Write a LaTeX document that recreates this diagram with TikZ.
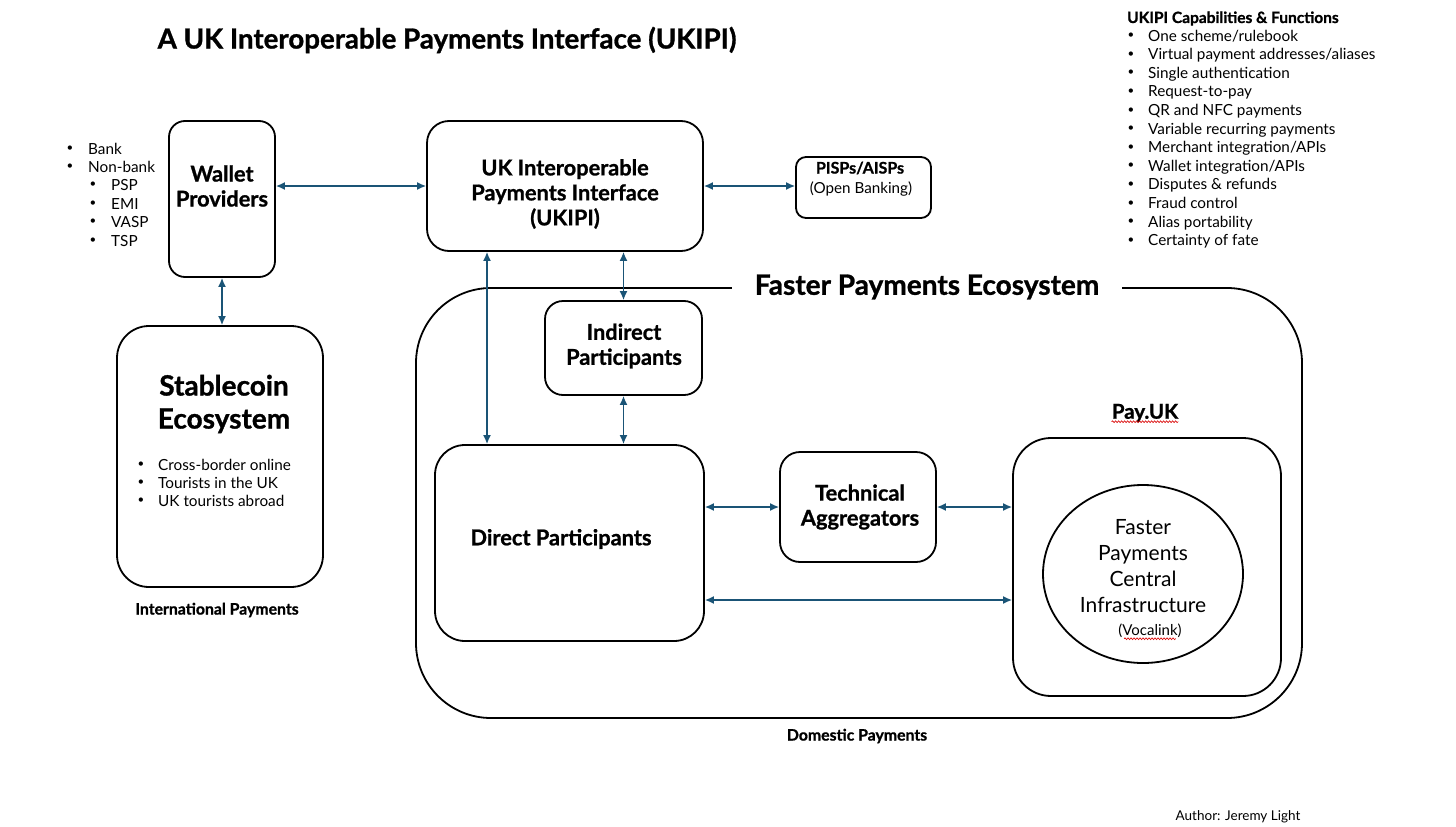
\documentclass[tikz,border=0pt]{standalone}
\usepackage{fontspec}
\setmainfont{Lato}[BoldFeatures={FakeBold=1}]
\usetikzlibrary{arrows.meta,calc,shapes.geometric,decorations.pathmorphing}
\definecolor{arrc}{RGB}{26,84,118}
\begin{document}
\begin{tikzpicture}[x=1pt,y=-1pt,
  box/.style={draw=black, line width=1.8pt, inner sep=0pt},
  arr/.style={draw=arrc, line width=1.5pt, {Latex[length=9pt,width=8pt]}-{Latex[length=9pt,width=8pt]}},
  lbl/.style={font=\fontsize{21.8}{25}\selectfont\bfseries, align=center, inner sep=0pt},
  body/.style={font=\fontsize{15.3}{18}\selectfont, inner sep=0pt},
  bul/.style={font=\fontsize{11.5}{12}\selectfont, inner sep=0pt},
  bodyb/.style={font=\fontsize{15.5}{18}\selectfont\bfseries, inner sep=0pt},
  squig/.style={draw=red!85!black, line width=0.6pt, decorate, decoration={snake, amplitude=0.9pt, segment length=3pt}}
]
\useasboundingbox (0,0) rectangle (1456,827);

% title
\node[font=\fontsize{27.7}{32}\selectfont\bfseries, inner sep=0pt] (title) at (447,40) {A UK Interoperable Payments Interface (UKIPI)};

% boxes
\node[box, rounded corners=16pt, minimum width=106pt, minimum height=156pt] (wallet) at (222,199) {};
\node[box, rounded corners=22pt, minimum width=276pt, minimum height=130pt] (ukipi) at (565,186) {};
\node[box, rounded corners=10pt, minimum width=135pt, minimum height=61pt] (pisps) at (863.5,187.5) {};
\node[box, rounded corners=32pt, minimum width=206pt, minimum height=261pt] (stable) at (220,456.5) {};
\node[box, rounded corners=75pt, minimum width=886pt, minimum height=430pt] (fpe) at (859,503) {};
\node[box, rounded corners=18pt, minimum width=157pt, minimum height=94pt] (indirect) at (623.5,348) {};
\node[box, rounded corners=30pt, minimum width=269pt, minimum height=196pt] (direct) at (569.5,543) {};
\node[box, rounded corners=20pt, minimum width=156pt, minimum height=110pt] (tech) at (858,507) {};
\node[box, rounded corners=38pt, minimum width=268pt, minimum height=258pt] (payuk) at (1147,567) {};
\node[draw=black, line width=1.8pt, ellipse, minimum width=200pt, minimum height=178pt, inner sep=0pt] (fpci) at (1143,574) {};

% FPE title over the top edge
\node[font=\fontsize{28}{32}\selectfont\bfseries, fill=white, inner xsep=23pt, inner ysep=4pt] (fpetitle) at (927,287) {Faster Payments Ecosystem};

% box texts
\node[lbl] (wallett) at (222,186) {Wallet\\Providers};
\node[lbl] (ukipit) at (565,194) {UK Interoperable\\Payments Interface\\(UKIPI)};
\node[font=\fontsize{16}{18}\selectfont\bfseries, inner sep=0pt] (pispst) at (860,168) {PISPs/AISPs};
\node[font=\fontsize{15.2}{18}\selectfont, inner sep=0pt] (pispso) at (861,189) {(Open Banking)};
\node[font=\fontsize{28}{33}\selectfont\bfseries, align=center, inner sep=0pt] (stablet) at (224,404) {Stablecoin\\Ecosystem};
\node[lbl] (indirectt) at (624,346) {Indirect\\Participants};
\node[lbl] (directt) at (561,539) {Direct Participants};
\node[lbl] (techt) at (860,507) {Technical\\Aggregators};
\node[font=\fontsize{21}{26}\selectfont, align=center, inner sep=0pt] (fpcit) at (1143,566) {Faster\\Payments\\Central\\Infrastructure};
\node[font=\fontsize{15}{16}\selectfont, inner sep=0pt] (voca) at (1150,631) {(Vocalink)};
\node[font=\fontsize{20.5}{22}\selectfont\bfseries, inner sep=0pt] (paylbl) at (1145,413) {Pay.UK};
\draw[squig] ([yshift=-3pt]paylbl.base west) -- ([yshift=-3pt]paylbl.base east);
\draw[squig] ([xshift=6pt,yshift=-3pt]voca.base west) -- ([xshift=-6pt,yshift=-3pt]voca.base east);

% captions
\node[bodyb, font=\fontsize{15.8}{18}\selectfont\bfseries] (intl) at (217,610) {International Payments};
\node[bodyb, font=\fontsize{15.8}{18}\selectfont\bfseries] (dom) at (857,736) {Domestic Payments};
\node[font=\fontsize{13.5}{14}\selectfont, inner sep=0pt] (author) at (1238,817) {Author: Jeremy Light};

% left bullets
\foreach \t/\y [count=\i] in {Bank/149, Non-bank/167} {
  \node[bul] (lb\i) at (70,\y) {•};
  \node[body, anchor=base west] (lt\i) at (88,\y+5) {\t};
}
\foreach \t/\y [count=\i] in {PSP/185, EMI/204, VASP/222, TSP/241} {
  \node[bul] (sb\i) at (93,\y) {•};
  \node[body, anchor=base west] (st\i) at (111,\y+5) {\t};
}
% stablecoin bullets
\foreach \t/\y [count=\i] in {Cross-border online/465, Tourists in the UK/483, UK tourists abroad/501} {
  \node[bul] (cb\i) at (141,\y) {•};
  \node[body, anchor=base west] (ct\i) at (158,\y+5) {\t};
}
% capabilities list
\node[bodyb, anchor=base west] (caph) at (1127,23) {UKIPI Capabilities \& Functions};
\foreach \t [count=\i] in {One scheme/rulebook, Virtual payment addresses/aliases, Single authentication, Request-to-pay, QR and NFC payments, Variable recurring payments, Merchant integration/APIs, Wallet integration/APIs, Disputes \& refunds, Fraud control, Alias portability, Certainty of fate} {
  \pgfmathsetmacro{\yy}{36+18.6*(\i-1)}
  \node[bul] (capb\i) at (1131,\yy) {•};
  \node[body, anchor=base west] (capt\i) at (1148,\yy+5) {\t};
}

% connectors
\coordinate (ua) at ($(ukipi.south)+(-78,0)$);
\coordinate (da) at ($(direct.east)+(0,57)$);
\draw[arr] (wallet.east |- ukipi.west) -- (ukipi.west);
\draw[arr] (ukipi.east) -- (ukipi.east -| pisps.west);
\draw[arr] (wallet.south) -- (wallet.south |- stable.north);
\draw[arr] (ua) -- (ua |- direct.north);
\draw[arr] (indirect.north |- ukipi.south) -- (indirect.north);
\draw[arr] (indirect.south) -- (indirect.south |- direct.north);
\draw[arr] (tech.west -| direct.east) -- (tech.west);
\draw[arr] (tech.east) -- (tech.east -| payuk.west);
\draw[arr] (da) -- (da -| payuk.west);
\end{tikzpicture}
\end{document}
